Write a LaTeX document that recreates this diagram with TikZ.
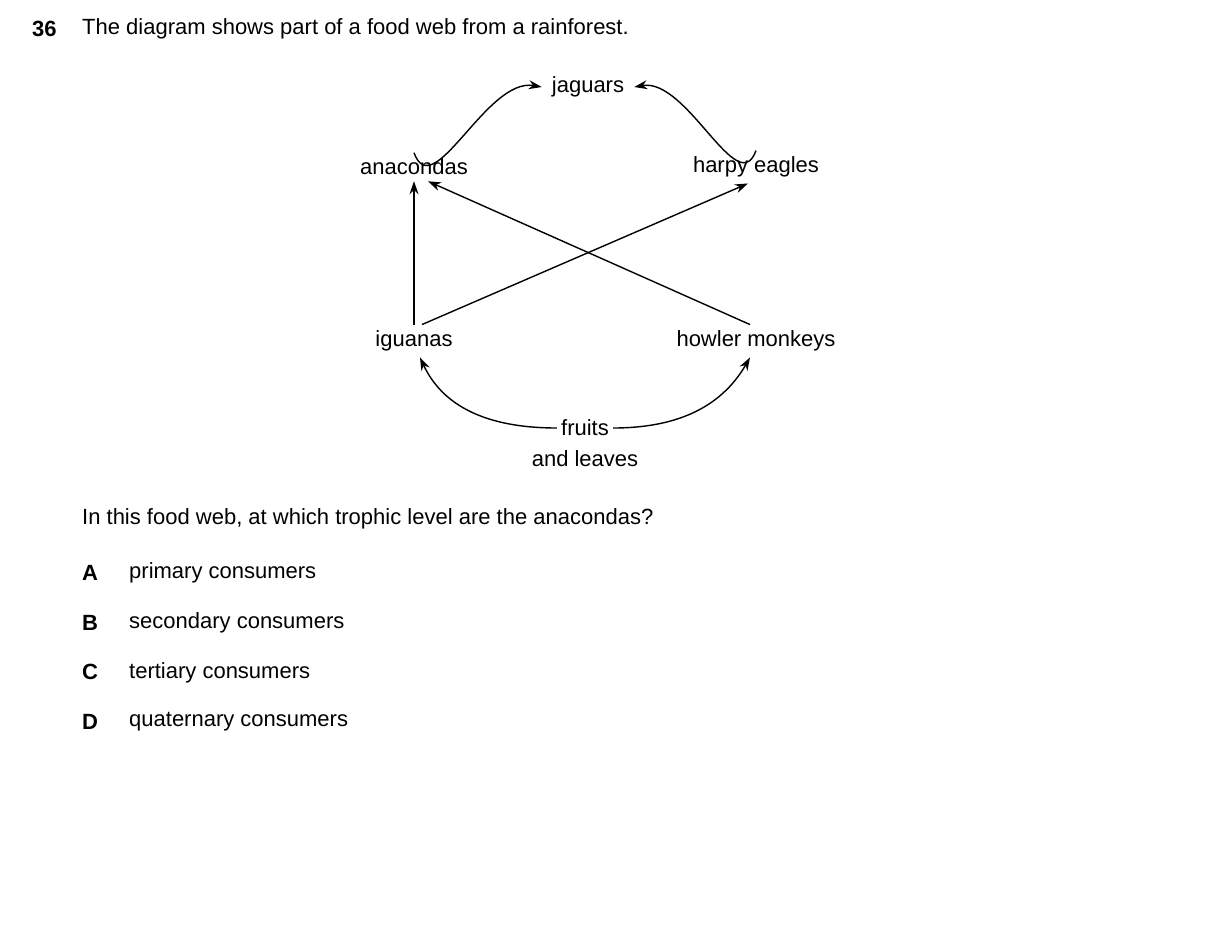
\documentclass[tikz,border=0pt]{standalone}
\usepackage{fontspec}
\setmainfont{Liberation Sans}
\usetikzlibrary{positioning,arrows.meta}

\begin{document}
\begin{tikzpicture}[x=1pt,y=-1pt,
  every node/.style={font=\fontsize{22}{26}\selectfont, inner sep=6pt},
  eats/.style={line width=1.4pt, -{Stealth[length=13pt,width=9pt]}}]
\useasboundingbox (0,0) rectangle (1209,951);
% header
\node[anchor=west, inner sep=0pt, font=\fontsize{22}{26}\selectfont\bfseries] (num) at (32,29) {36};
\node[anchor=west, inner sep=0pt] (title) at (82,29) {The diagram shows part of a food web from a rainforest.};
% food web
\node (jag) at (588,87) {jaguars};
\node (ana) at (414,167) {anacondas};
\node (harp) at (756,167) {harpy eagles};
\node (igu) at (414,341) {iguanas};
\node (how) at (756,341) {howler monkeys};
\node (fruit) at (585,428) {fruits};
\node (leaves) at (585,459) {and leaves};
\draw[eats] (ana.north) to[out=-70,in=170] ([xshift=-4]jag.west);
\draw[eats] (harp.north) to[out=-110,in=10] ([xshift=4]jag.east);
\draw[eats] (igu.north) -- (ana.south);
\draw[eats] ([xshift=8]igu.north) -- ([xshift=-8]harp.south);
\draw[eats] ([xshift=-6]how.north) -- ([xshift=14]ana.south);
\draw[eats] ([xshift=2]fruit.west) to[out=180,in=-65] ([xshift=6]igu.south);
\draw[eats] ([xshift=-2]fruit.east) to[out=0,in=-120] ([xshift=-6]how.south);
% question
\node[anchor=west, inner sep=0pt] (q) at (82,519) {In this food web, at which trophic level are the anacondas?};
\foreach \k/\txt [count=\i from 0] in {A/primary consumers, B/secondary consumers, C/tertiary consumers, D/quaternary consumers}{
  \node[anchor=west, inner sep=0pt, font=\fontsize{22}{26}\selectfont\bfseries] (opt\k) at (82,573+49.7*\i) {\k};
  \node[anchor=west, inner sep=0pt] (ans\k) at (129,573+49.7*\i) {\txt};
}
\end{tikzpicture}
\end{document}
